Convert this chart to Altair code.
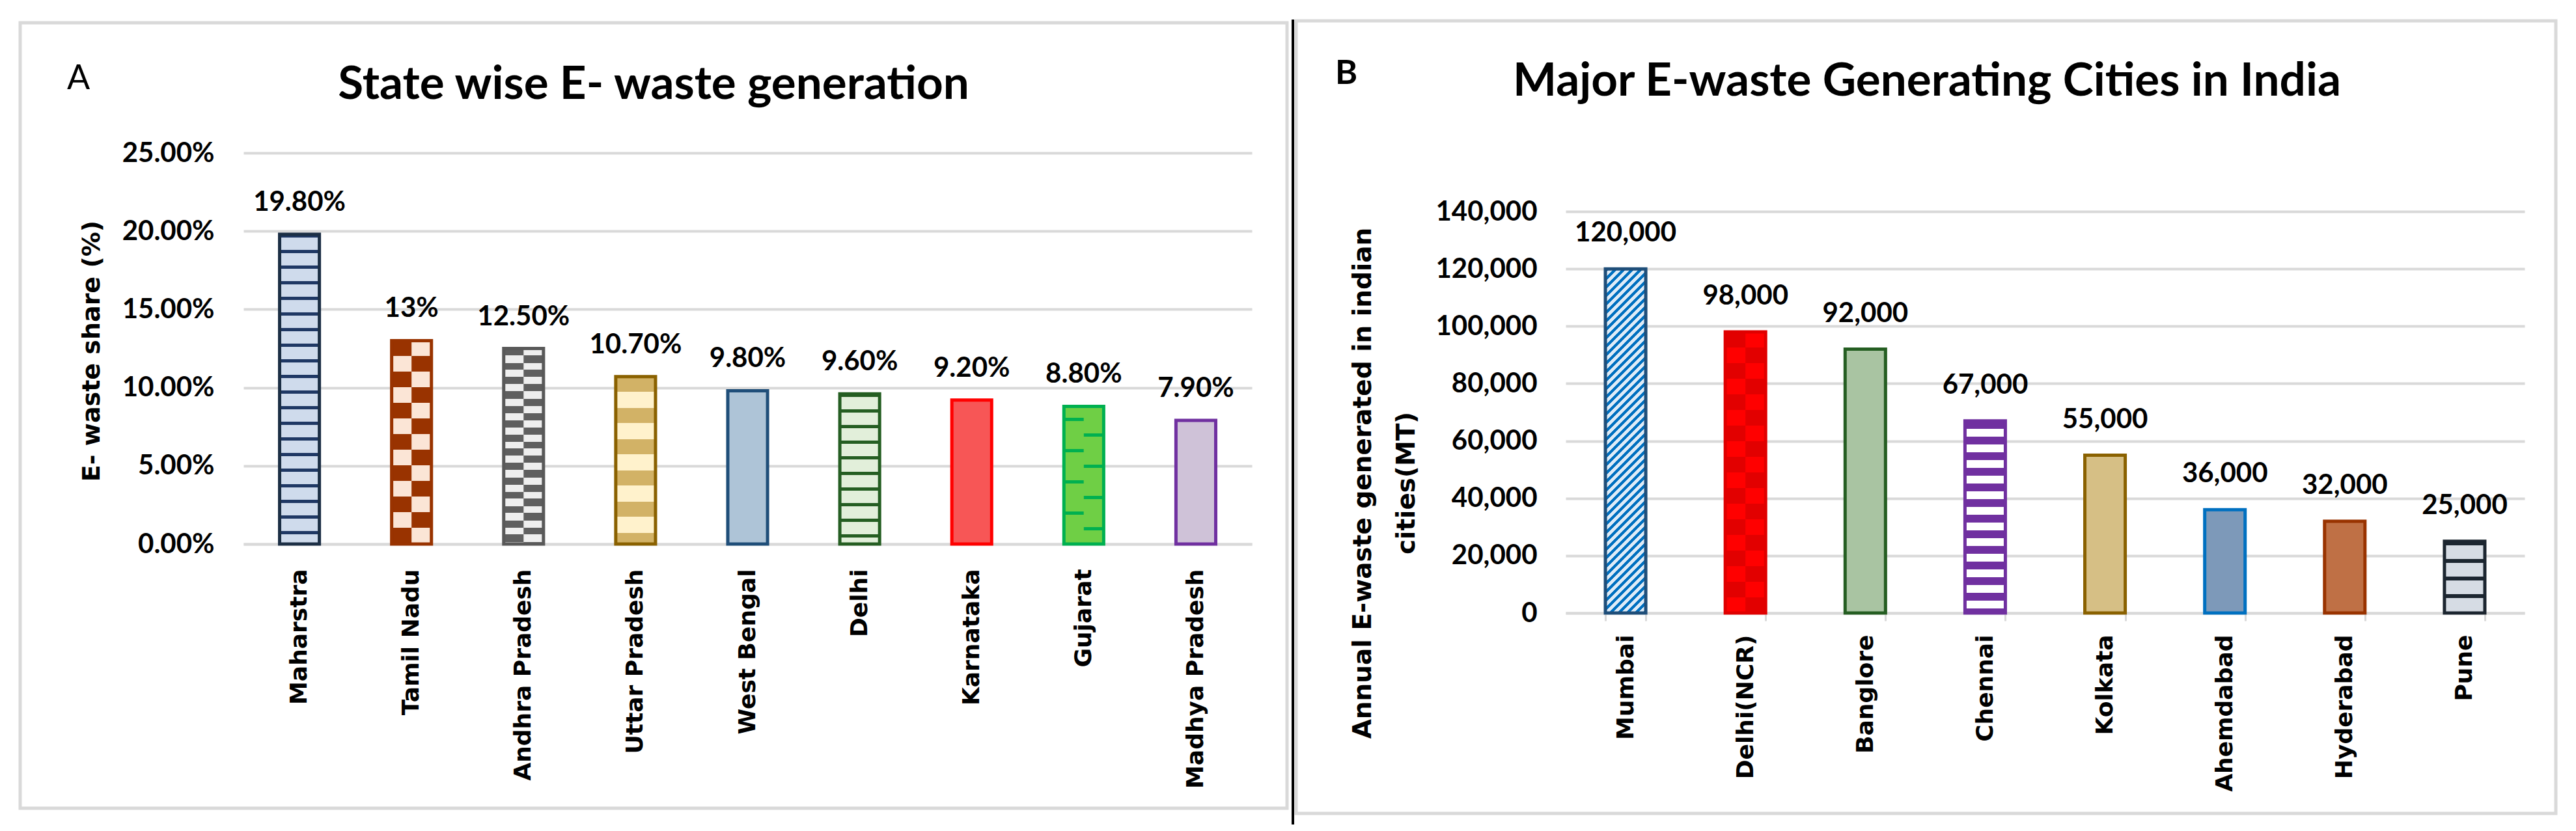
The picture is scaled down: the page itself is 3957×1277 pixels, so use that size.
import altair as alt
import pandas as pd

# ---------------- data ----------------
states = ["Maharstra", "Tamil Nadu", "Andhra Pradesh", "Uttar Pradesh", "West Bengal",
          "Delhi", "Karnataka", "Gujarat", "Madhya Pradesh"]
state_share = [0.198, 0.13, 0.125, 0.107, 0.098, 0.096, 0.092, 0.088, 0.079]
state_labels = ["19.80%", "13%", "12.50%", "10.70%", "9.80%", "9.60%", "9.20%", "8.80%", "7.90%"]
state_ticks = [0, 0.05, 0.10, 0.15, 0.20, 0.25]

cities = ["Mumbai", "Delhi(NCR)", "Banglore", "Chennai", "Kolkata", "Ahemdabad", "Hyderabad", "Pune"]
city_mt = [120000, 98000, 92000, 67000, 55000, 36000, 32000, 25000]
city_labels = ["120,000", "98,000", "92,000", "67,000", "55,000", "36,000", "32,000", "25,000"]
city_ticks = [0, 20000, 40000, 60000, 80000, 100000, 120000, 140000]

title_a = "State wise E- waste generation"
title_b = "Major E-waste Generating Cities in India"
ytitle_a = "E- waste share (%)"
ytitle_b = ["Annual E-waste generated in indian", "cities(MT)"]

# ---------------- styles ----------------
state_fill = ["#8ea8ca", "#cb8e6c", "#bdbdbd", "#dfc88a", "#aec4d7", "#b3cbab", "#f75656", "#6fcf45", "#cfc2d8"]
state_stroke = ["#1c2f45", "#993300", "#595959", "#8a6100", "#1f4e79", "#255e22", "#ff0000", "#00b050", "#7030a0"]
city_fill = ["#5f9fd8", "#f50000", "#a9c4a2", "#a27cc0", "#d6bf85", "#7d99b9", "#bf7045", "#a8afb9"]
city_stroke = ["#1f4e79", "#e00000", "#255e22", "#7030a0", "#8a6100", "#0070c0", "#993300", "#1c2630"]

# fill patterns: category -> (kind, period px, line px, background, line colour)
state_patterns = {
    "Maharstra": ("stripes", 24, 5, "#cfdbec", "#1f3864"),
    "Tamil Nadu": ("checker", 48, 24, "#fbe5d6", "#993300"),
    "Andhra Pradesh": ("checker", 22, 11, "#eeeeee", "#5f5f5f"),
    "Uttar Pradesh": ("stripes", 48, 23, "#fff2cc", "#d2b266"),
    "Delhi": ("stripes", 24, 5, "#e2efda", "#255e22"),
    "Gujarat": ("ticks", 48, 5, "#6fcf45", "#00b050"),
}
city_patterns = {
    "Mumbai": ("diagonal", 13, 6, "#deebf7", "#0070c0"),
    "Delhi(NCR)": ("checker", 48, 24, "#ff0000", "#e20000"),
    "Chennai": ("stripes", 24, 12, "#ffffff", "#7030a0"),
    "Pune": ("stripes", 27, 6, "#d6dce4", "#1c2630"),
}

FONT = "Lato"
RFONT = "DejaVu Sans"   # rotated texts
GRID = "#d9d9d9"


def band_stops(span, period, thick, bg, fg, phase=0):
    stops = [alt.GradientStop(offset=0, color=bg)]
    k = 0
    while phase + k * period < span:
        s = min(1.0, (phase + k * period) / span)
        e = min(1.0, (phase + k * period + thick) / span)
        stops += [alt.GradientStop(offset=s, color=bg), alt.GradientStop(offset=s, color=fg),
                  alt.GradientStop(offset=e, color=fg), alt.GradientStop(offset=e, color=bg)]
        k += 1
    stops.append(alt.GradientStop(offset=1, color=bg))
    return stops


def stripe_gradient(bar_h, period, thick, bg, fg, phase=0):
    return alt.LinearGradient(gradient="linear", stops=band_stops(bar_h, period, thick, bg, fg, phase),
                              x1=0, x2=0, y1=0, y2=1)


def diag_gradient(bar_w, bar_h, period, thick, bg, fg):
    k = (bar_w + bar_h) / (bar_w ** 2 + bar_h ** 2)
    return alt.LinearGradient(gradient="linear",
                              stops=band_stops(bar_w + bar_h, period, thick, bg, fg),
                              x1=0, y1=0, x2=bar_w * k, y2=bar_h * k)


def pattern_layers(df, field, cats, vals, patterns, px_per_unit, bar_w, xenc, yfield):
    layers = []
    for name, (kind, per, th, bg, fg) in patterns.items():
        h = vals[cats.index(name)] * px_per_unit
        base = alt.Chart(df).transform_filter(alt.datum[field] == name)
        enc = dict(x=xenc, y=alt.Y(yfield))
        if kind == "stripes":
            layers.append(base.mark_bar(fill=stripe_gradient(h, per, th, bg, fg), strokeWidth=0).encode(**enc))
        elif kind == "diagonal":
            layers.append(base.mark_bar(fill=diag_gradient(bar_w, h, per, th, bg, fg), strokeWidth=0).encode(**enc))
        elif kind == "checker":
            layers.append(base.mark_bar(fill=stripe_gradient(h, per, th, bg, fg), strokeWidth=0).encode(**enc))
            layers.append(base.mark_bar(fill=stripe_gradient(h, per, th, fg, bg), strokeWidth=0,
                                        width=bar_w / 2, xOffset=bar_w / 4).encode(**enc))
        elif kind == "ticks":
            layers.append(base.mark_bar(fill=stripe_gradient(h, per, th, bg, fg, per / 2 - 6), strokeWidth=0,
                                        width=bar_w / 2, xOffset=-bar_w / 4).encode(**enc))
            layers.append(base.mark_bar(fill=stripe_gradient(h, per, th, bg, fg, per - 6), strokeWidth=0,
                                        width=bar_w / 2, xOffset=bar_w / 4).encode(**enc))
    return layers


# ---------------- panel A ----------------
WA, HA = 1549, 511
PX_A = 601 / 0.25
PI_A = 0.645
BAR_A = WA / len(states) * (1 - PI_A)
dfA = pd.DataFrame({"state": states, "share": state_share, "label": state_labels})

xA = alt.X("state:N", sort=states,
           scale=alt.Scale(paddingInner=PI_A, paddingOuter=PI_A / 2),
           axis=alt.Axis(title=None, labelAngle=270, labelAlign="right", labelBaseline="middle",
                         labelPadding=38, labelFont=RFONT, labelFontSize=36, labelFontWeight="bold",
                         labelColor="black", labelLimit=1000, ticks=False,
                         domain=True, domainColor=GRID, domainWidth=4, grid=False))
yA = alt.Y("share:Q", scale=alt.Scale(domain=[0, 0.25], nice=False, zero=True, range=[511, -90]),
           axis=alt.Axis(title=ytitle_a, values=state_ticks, format=".2%", grid=True,
                         gridColor=GRID, gridWidth=4, domain=False, ticks=False,
                         labelPadding=45, labelFont=FONT, labelFontSize=42, labelFontWeight="bold",
                         labelColor="black",
                         titleFont=RFONT, titleFontSize=38, titleFontWeight="bold", titleColor="black",
                         titleAngle=270, titleAlign="center", titleBaseline="middle",
                         titleX=-233, titleY=214))
xA_plain = alt.X("state:N", sort=states)

boxA = alt.Chart(pd.DataFrame({"k": [0]})).mark_rect(
    fill="white", fillOpacity=0, stroke=GRID, strokeWidth=5).encode(
    x=alt.value(-343), x2=alt.value(1603), y=alt.value(-290), y2=alt.value(917))

barsA = alt.Chart(dfA).mark_bar(strokeWidth=0).encode(
    x=xA, y=yA,
    fill=alt.Fill("state:N", scale=alt.Scale(domain=states, range=state_fill), legend=None))

patA = pattern_layers(dfA, "state", states, state_share, state_patterns, PX_A, BAR_A, xA_plain, "share:Q")

outlineA = alt.Chart(dfA).mark_bar(fill="white", fillOpacity=0, strokeWidth=5).encode(
    x=xA_plain, y=alt.Y("share:Q"),
    stroke=alt.Stroke("state:N", scale=alt.Scale(domain=states, range=state_stroke), legend=None))

labelsA = alt.Chart(dfA).mark_text(font=FONT, fontSize=42, fontWeight="bold", color="black",
                                   baseline="alphabetic", dy=-36).encode(
    x=xA_plain, y="share:Q", text="label:N")

titleA = alt.Chart(pd.DataFrame({"t": [title_a]})).mark_text(
    font=FONT, fontSize=71, fontWeight="bold", color="black", align="center",
    baseline="alphabetic").encode(x=alt.value(630), y=alt.value(-173), text="t:N")

letterA = alt.Chart(pd.DataFrame({"t": ["A"]})).mark_text(
    font=FONT, fontSize=52, fontWeight="normal", color="black", align="left",
    baseline="alphabetic").encode(x=alt.value(-271), y=alt.value(-188), text="t:N")

panelA = alt.layer(boxA, barsA, *patA, outlineA, labelsA, titleA, letterA).properties(width=WA, height=HA)

# ---------------- panel B ----------------
WB, HB = 1473, 617
PX_B = 617 / 140000
PI_B = 0.663
BAR_B = WB / len(cities) * (1 - PI_B)
dfB = pd.DataFrame({"city": cities, "mt": city_mt, "label": city_labels})

xB = alt.X("city:N", sort=cities,
           scale=alt.Scale(paddingInner=PI_B, paddingOuter=PI_B / 2),
           axis=alt.Axis(title=None, labelAngle=270, labelAlign="right", labelBaseline="middle",
                         labelPadding=21, labelFont=RFONT, labelFontSize=36, labelFontWeight="bold",
                         labelColor="black", labelLimit=1000, ticks=True,
                         tickBand="extent", tickSize=12, tickColor=GRID, tickWidth=3,
                         domain=True, domainColor=GRID, domainWidth=4, grid=False))
yB = alt.Y("mt:Q", scale=alt.Scale(domain=[0, 140000], nice=False, zero=True),
           axis=alt.Axis(title=ytitle_b, values=city_ticks, format=",d", grid=True,
                         gridColor=GRID, gridWidth=4, domain=False, ticks=False,
                         labelPadding=44, labelFont=FONT, labelFontSize=42, labelFontWeight="bold",
                         labelColor="black",
                         titleFont=RFONT, titleFontSize=39, titleFontWeight="bold", titleColor="black",
                         titleLineHeight=67, titleAngle=270, titleAlign="center",
                         titleBaseline="middle", titleX=-312, titleY=417))
xB_plain = alt.X("city:N", sort=cities)

boxB = alt.Chart(pd.DataFrame({"k": [0]})).mark_rect(
    fill="white", fillOpacity=0, stroke=GRID, strokeWidth=5).encode(
    x=alt.value(-414), x2=alt.value(1521), y=alt.value(-293), y2=alt.value(925))

divider = alt.Chart(pd.DataFrame({"k": [0]})).mark_rule(color="black", strokeWidth=4).encode(
    x=alt.value(-419), y=alt.value(-295), y2=alt.value(942))

barsB = alt.Chart(dfB).mark_bar(strokeWidth=0).encode(
    x=xB, y=yB,
    fill=alt.Fill("city:N", scale=alt.Scale(domain=cities, range=city_fill), legend=None))

patB = pattern_layers(dfB, "city", cities, city_mt, city_patterns, PX_B, BAR_B, xB_plain, "mt:Q")

outlineB = alt.Chart(dfB).mark_bar(fill="white", fillOpacity=0, strokeWidth=5).encode(
    x=xB_plain, y=alt.Y("mt:Q"),
    stroke=alt.Stroke("city:N", scale=alt.Scale(domain=cities, range=city_stroke), legend=None))

labelsB = alt.Chart(dfB).mark_text(font=FONT, fontSize=42, fontWeight="bold", color="black",
                                   baseline="alphabetic", dy=-42).encode(
    x=xB_plain, y="mt:Q", text="label:N")

titleB = alt.Chart(pd.DataFrame({"t": [title_b]})).mark_text(
    font=FONT, fontSize=71, fontWeight="bold", color="black", align="center",
    baseline="alphabetic").encode(x=alt.value(555), y=alt.value(-178), text="t:N")

letterB = alt.Chart(pd.DataFrame({"t": ["B"]})).mark_text(
    font=FONT, fontSize=52, fontWeight="bold", color="black", align="left",
    baseline="alphabetic").encode(x=alt.value(-354), y=alt.value(-196), text="t:N")

panelB = alt.layer(boxB, divider, barsB, *patB, outlineB, labelsB, titleB, letterB).properties(width=WB, height=HB)

chart = alt.hconcat(panelA, panelB, spacing=4).resolve_scale(
    fill="independent", stroke="independent", x="independent", y="independent"
).properties(
    padding={"left": 20, "top": 20, "right": 0, "bottom": 0},
    background="white"
).configure_view(strokeWidth=0)

chart.save("out.html", embed_options={"renderer": "svg", "actions": False})
